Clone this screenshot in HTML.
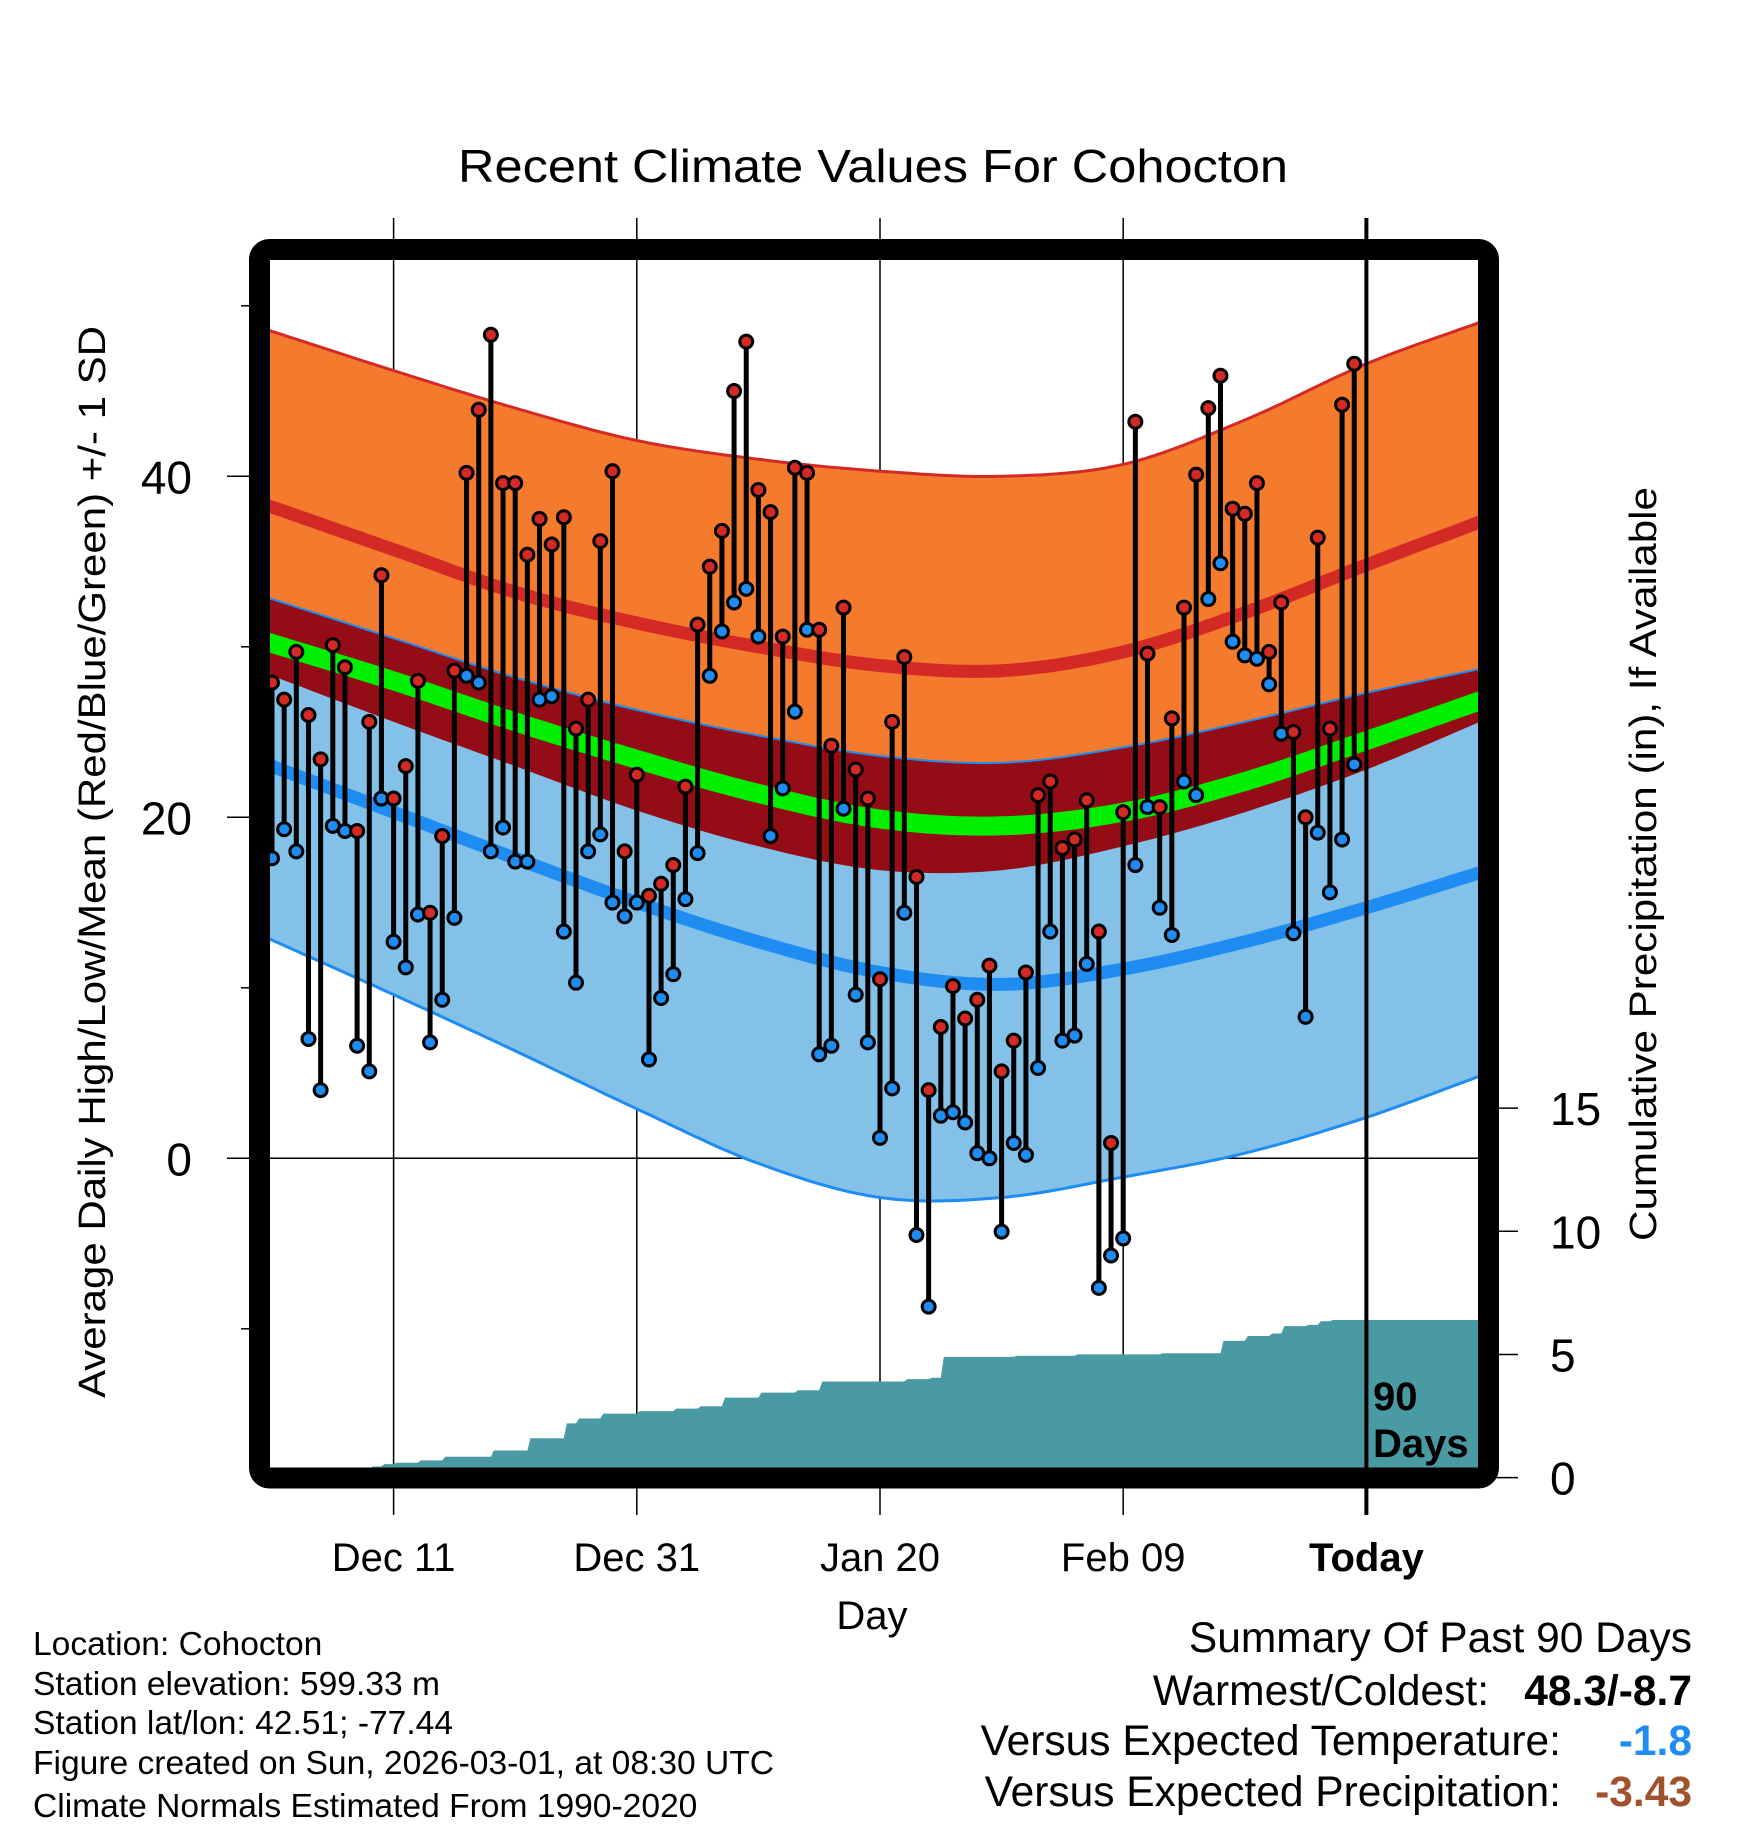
<!DOCTYPE html>
<html><head><meta charset="utf-8"><style>
html,body{margin:0;padding:0;background:#fff;}
svg{display:block;font-family:"Liberation Sans",sans-serif;}
</style></head><body>
<svg id="chart" width="1748" height="1828" viewBox="0 0 1748 1828" xmlns="http://www.w3.org/2000/svg">
<defs><clipPath id="plotclip"><rect x="270" y="260" width="1208" height="1208"/></clipPath></defs>
<rect x="0" y="0" width="1748" height="1828" fill="#fff"/>
<text x="873" y="182" font-size="46" text-anchor="middle" textLength="830" lengthAdjust="spacingAndGlyphs">Recent Climate Values For Cohocton</text>
<g id="grid"></g>
<g id="plot" clip-path="url(#plotclip)"></g>
<g id="axes"></g>
<rect x="259.5" y="249.5" width="1229" height="1228.5" rx="10" fill="none" stroke="#000" stroke-width="21"/>
<text transform="translate(105,862) rotate(-90)" font-size="38" text-anchor="middle" textLength="1072" lengthAdjust="spacingAndGlyphs">Average Daily High/Low/Mean (Red/Blue/Green) +/- 1 SD</text>
<text transform="translate(1656,864) rotate(-90)" font-size="38" text-anchor="middle" textLength="754" lengthAdjust="spacingAndGlyphs">Cumulative Precipitation (in), If Available</text>
<text x="872" y="1629" font-size="40" text-anchor="middle">Day</text>
<text x="1373" y="1410" font-size="40" font-weight="bold">90</text>
<text x="1373" y="1457" font-size="40" font-weight="bold">Days</text>
<g font-size="33.6">
<text x="33" y="1655">Location: Cohocton</text>
<text x="33" y="1695">Station elevation: 599.33 m</text>
<text x="33" y="1734">Station lat/lon: 42.51; -77.44</text>
<text x="33" y="1774">Figure created on Sun, 2026-03-01, at 08:30 UTC</text>
<text x="33" y="1817">Climate Normals Estimated From 1990-2020</text>
</g>
<g font-size="42.5">
<text x="1692" y="1652" text-anchor="end">Summary Of Past 90 Days</text>
<text x="1489" y="1705" text-anchor="end">Warmest/Coldest:</text>
<text x="1692" y="1705" text-anchor="end" font-weight="bold">48.3/-8.7</text>
<text x="1561" y="1755" text-anchor="end">Versus Expected Temperature:</text>
<text x="1692" y="1755" text-anchor="end" font-weight="bold" fill="#1e8cf0">-1.8</text>
<text x="1561" y="1806" text-anchor="end">Versus Expected Precipitation:</text>
<text x="1692" y="1806" text-anchor="end" font-weight="bold" fill="#a0522d">-3.43</text>
</g>
</svg>
<script>
const highs=[27.9,26.9,29.7,26.0,23.4,30.1,28.8,19.2,25.6,34.2,21.1,23.0,28.0,14.4,18.9,28.6,40.2,43.9,48.3,39.6,39.6,35.4,37.5,36.0,37.6,25.2,26.9,36.2,40.3,18.0,22.5,15.4,16.1,17.2,21.8,31.3,34.7,36.8,45.0,47.9,39.2,37.9,30.6,40.5,40.2,31.0,24.2,32.3,22.8,21.1,10.5,25.6,29.4,16.5,4.0,7.7,10.1,8.2,9.3,11.3,5.1,6.9,10.9,21.3,22.1,18.2,18.7,21.0,13.3,0.9,20.3,43.2,29.6,20.6,25.8,32.3,40.1,44.0,45.9,38.1,37.8,39.6,29.7,32.6,25.0,20.0,36.4,25.2,44.2,46.6];
const lows=[17.6,19.3,18.0,7.0,4.0,19.5,19.2,6.6,5.1,21.1,12.7,11.2,14.3,6.8,9.3,14.1,28.3,27.9,18.0,19.4,17.4,17.4,26.9,27.1,13.3,10.3,18.0,19.0,15.0,14.2,15.0,5.8,9.4,10.8,15.2,17.9,28.3,30.9,32.6,33.4,30.6,18.9,21.7,26.2,31.0,6.1,6.6,20.5,9.6,6.8,1.2,4.1,14.4,-4.5,-8.7,2.5,2.7,2.1,0.3,0.0,-4.3,0.9,0.2,5.3,13.3,6.9,7.2,11.4,-7.6,-5.7,-4.7,17.2,20.6,14.7,13.1,22.1,21.3,32.8,34.9,30.3,29.5,29.3,27.8,24.9,13.2,8.3,19.1,15.6,18.7,23.1];
const precipDays=[8,9,10,12,14,18,21,24,25,27,30,33,35,37,40,43,45,52,54,55,61,66,73,78,80,82,83,85,86,87];
const precipAmounts=[0.45,0.1,0.05,0.1,0.15,0.25,0.5,0.6,0.2,0.2,0.1,0.1,0.1,0.35,0.2,0.1,0.35,0.1,0.05,0.85,0.05,0.05,0.05,0.5,0.2,0.1,0.3,0.05,0.15,0.05];
const normDays=[0,10,20,30,40,50,60,70,80,90,100];
const normHighPlusSD=[48.5,46.2,44.0,42.1,41.0,40.3,40.0,40.7,43.3,46.6,49.2];
const normHigh=[38.2,35.7,33.2,31.4,30.0,28.9,28.6,29.7,32.0,34.8,37.5];
const normLowPlusSD=[32.8,30.5,28.2,26.3,24.8,23.6,23.2,24.1,25.6,27.3,28.8];
const normMean=[30.2,28.0,25.6,23.4,21.4,19.9,19.5,20.3,22.1,24.5,27.0];
const normHighMinusSD=[28.3,25.6,23.0,20.4,18.3,16.9,16.9,18.3,20.3,22.8,25.8];
const normLow=[23.0,20.3,17.6,15.0,12.7,10.9,10.2,11.1,12.7,14.7,16.9];
const normLowMinusSD=[12.8,9.6,6.3,2.9,-0.3,-2.3,-2.3,-1.1,0.3,2.4,5.0];
const yTicks=[0,20,40];
const yMinorTicks=[-10,10,30,50];
const y2Ticks=[0,5,10,15];
const xTickDays=[10,30,50,70,90];
const xTickLabels=["Dec 11","Dec 31","Jan 20","Feb 09","Today"];

const NS="http://www.w3.org/2000/svg";
const X=d=>272+12.16*d;
const Y=v=>1158.3-17.05*v;
const YP=v=>1477.6-24.63*v;
function mk(tag,attrs,parent){const e=document.createElementNS(NS,tag);for(const k in attrs)e.setAttribute(k,attrs[k]);parent.appendChild(e);return e;}
function interp(arr,d){
  let i=Math.floor(d/10);if(i<0)i=0;if(i>9)i=9;const t=(d-normDays[i])/10;
  const p0=i>0?arr[i-1]:2*arr[0]-arr[1],p1=arr[i],p2=arr[i+1],p3=i<9?arr[i+2]:2*arr[10]-arr[9];
  return 0.5*((2*p1)+(-p0+p2)*t+(2*p0-5*p1+4*p2-p3)*t*t+(-p0+3*p1-3*p2+p3)*t*t*t);
}
function curvePts(arr){const p=[];for(let d=-2;d<=102;d+=0.5)p.push([X(d),Y(interp(arr,d))]);return p;}
function band(a,b){const pa=curvePts(a),pb=curvePts(b).reverse();return "M"+pa.concat(pb).map(p=>p[0].toFixed(1)+","+p[1].toFixed(1)).join("L")+"Z";}
function line(arr){return "M"+curvePts(arr).map(p=>p[0].toFixed(1)+","+p[1].toFixed(1)).join("L");}
const plot=document.getElementById('plot'),grid=document.getElementById('grid'),axes=document.getElementById('axes');

let e;
e=mk('path',{d:band(normHighPlusSD,normHighMinusSD),fill:'#f47a2e'},plot);


e=mk('path',{d:band(normLowPlusSD,normLowMinusSD),fill:'#83c1e8'},plot);


e=mk('path',{d:band(normLowPlusSD,normHighMinusSD),fill:'#940d16'},plot);


e=mk('path',{d:line(normHighPlusSD),fill:'none',stroke:'#d42a26','stroke-width':3},plot);


e=mk('path',{d:line(normLowPlusSD),fill:'none',stroke:'#1e8cf0','stroke-width':2},plot);


e=mk('path',{d:line(normLowMinusSD),fill:'none',stroke:'#1e8cf0','stroke-width':3},plot);


e=mk('path',{d:line(normHigh),fill:'none',stroke:'#d42a26','stroke-width':13},plot);


e=mk('path',{d:line(normLow),fill:'none',stroke:'#1e8cf0','stroke-width':13},plot);


e=mk('path',{d:line(normMean),fill:'none',stroke:'#00ee00','stroke-width':19},plot);



yTicks.forEach(v=>{
  e=mk('line',{x1:227,x2:1478,y1:Y(v),y2:Y(v),stroke:'#000','stroke-width':1.5},grid);
  
  
  e=mk('text',{x:192,y:Y(v)+17,'font-size':46,'text-anchor':'end'},axes);e.textContent=v;
  
  
});
yMinorTicks.forEach(v=>{
  e=mk('line',{x1:241,x2:252,y1:Y(v),y2:Y(v),stroke:'#000','stroke-width':1.5},grid);
  
  
});
xTickDays.forEach((d,i)=>{
  const today=xTickLabels[i]==='Today';
  e=mk('line',{x1:X(d),x2:X(d),y1:218,y2:1515,stroke:'#000','stroke-width':today?4:1.5},today?axes:grid);
  
  
  e=mk('text',{x:X(d),y:1571,'font-size':40,'text-anchor':'middle','font-weight':today?'bold':'normal'},axes);e.textContent=xTickLabels[i];
  
  
});
y2Ticks.forEach(v=>{
  e=mk('line',{x1:1496,x2:1518,y1:YP(v),y2:YP(v),stroke:'#000','stroke-width':1.5},axes);
  
  
  e=mk('text',{x:1550,y:YP(v)+17,'font-size':46},axes);e.textContent=v;
  
  
});

let cum=0;let pts=[[270,YP(0)]];let cur=0;
for(let d=0;d<90;d++){
  const idx=precipDays.indexOf(d);
  if(idx>=0){cum+=precipAmounts[idx];pts.push([X(d),YP(cur)]);pts.push([X(d)+3,YP(cum)]);cur=cum;}
}
pts.push([1480,YP(cur)]);pts.push([1480,YP(0)]);
e=mk('path',{d:"M"+pts.map(p=>p[0].toFixed(1)+","+p[1].toFixed(1)).join("L")+"Z",fill:'#4a9aa3'},plot);



for(let d=0;d<highs.length;d++){
  e=mk('line',{x1:X(d),x2:X(d),y1:Y(highs[d]),y2:Y(lows[d]),stroke:'#000','stroke-width':5},plot);
  
  
}
for(let d=0;d<highs.length;d++){
  e=mk('circle',{cx:X(d),cy:Y(highs[d]),r:6.5,fill:'#d42a26',stroke:'#000','stroke-width':3},plot);
  
  
  e=mk('circle',{cx:X(d),cy:Y(lows[d]),r:6.5,fill:'#1e8cf0',stroke:'#000','stroke-width':3},plot);
  
  
}
</script>
</body></html>
